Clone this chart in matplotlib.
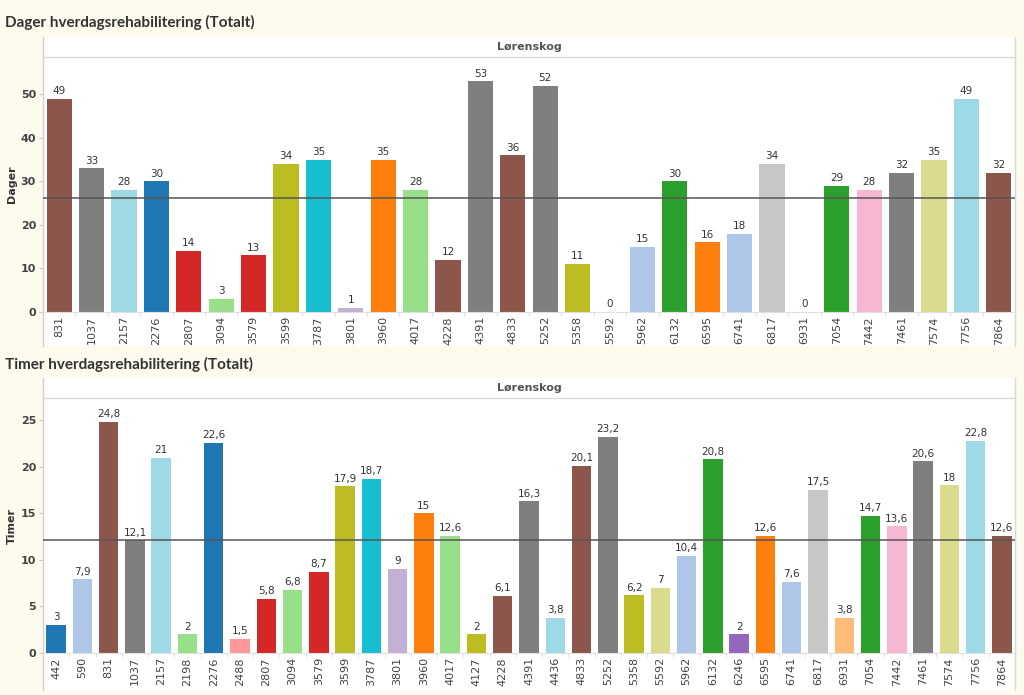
import matplotlib
matplotlib.use("Agg")
import matplotlib.pyplot as plt
from matplotlib.patches import Rectangle
from matplotlib.lines import Line2D

# ---------------- data ----------------
top_title = "Dager hverdagsrehabilitering (Totalt)"
bottom_title = "Timer hverdagsrehabilitering (Totalt)"
header = "Lørenskog"

top_ids = ["831", "1037", "2157", "2276", "2807", "3094", "3579", "3599", "3787", "3801",
           "3960", "4017", "4228", "4391", "4833", "5252", "5358", "5592", "5962", "6132",
           "6595", "6741", "6817", "6931", "7054", "7442", "7461", "7574", "7756", "7864"]
top_values = [49, 33, 28, 30, 14, 3, 13, 34, 35, 1,
              35, 28, 12, 53, 36, 52, 11, 0, 15, 30,
              16, 18, 34, 0, 29, 28, 32, 35, 49, 32]

bottom_ids = ["442", "590", "831", "1037", "2157", "2198", "2276", "2488", "2807", "3094",
              "3579", "3599", "3787", "3801", "3960", "4017", "4127", "4228", "4391", "4436",
              "4833", "5252", "5358", "5592", "5962", "6132", "6246", "6595", "6741", "6817",
              "6931", "7054", "7442", "7461", "7574", "7756", "7864"]
bottom_values = [3, 7.9, 24.8, 12.1, 21, 2, 22.6, 1.5, 5.8, 6.8,
                 8.7, 17.9, 18.7, 9, 15, 12.6, 2, 6.1, 16.3, 3.8,
                 20.1, 23.2, 6.2, 7, 10.4, 20.8, 2, 12.6, 7.6, 17.5,
                 3.8, 14.7, 13.6, 20.6, 18, 22.8, 12.6]

# ---------------- style ----------------
id_colors = {
    "442": "#1f77b4", "590": "#aec7e8", "831": "#8c564b", "1037": "#7f7f7f",
    "2157": "#9edae5", "2198": "#98df8a", "2276": "#1f77b4", "2488": "#ff9896",
    "2807": "#d62728", "3094": "#98df8a", "3579": "#d62728", "3599": "#bcbd22",
    "3787": "#17becf", "3801": "#c5b0d5", "3960": "#ff7f0e", "4017": "#98df8a",
    "4127": "#bcbd22", "4228": "#8c564b", "4391": "#7f7f7f", "4436": "#9edae5",
    "4833": "#8c564b", "5252": "#7f7f7f", "5358": "#bcbd22", "5592": "#dbdb8d",
    "5962": "#aec7e8", "6132": "#2ca02c", "6246": "#9467bd", "6595": "#ff7f0e",
    "6741": "#aec7e8", "6817": "#c7c7c7", "6931": "#ffbb78", "7054": "#2ca02c",
    "7442": "#f7b6d2", "7461": "#7f7f7f", "7574": "#dbdb8d", "7756": "#9edae5",
    "7864": "#8c564b",
}

W, H = 1024, 695
BG = "#fdfaee"
TXT = "#333333"
fig = plt.figure(figsize=(W / 100, H / 100), dpi=100, facecolor=BG)


def fx(px):
    return px / W


def fy(py):
    return 1 - py / H


def panel(title, ylabel, ids, values, title_y, white_top, head_bot, plot_bot, white_bot,
          ymax, yticks, width, fmt):
    fig.text(fx(5), fy(title_y), title, fontsize=11, fontweight="bold", color=TXT,
             va="center", ha="left", family=["Lato", "DejaVu Sans"])
    left, right = 43, 1015
    fig.add_artist(Rectangle((fx(left), fy(white_bot)), fx(right) - fx(left),
                             fy(white_top) - fy(white_bot), transform=fig.transFigure,
                             facecolor="white", edgecolor="none", zorder=-2))
    fig.text(fx((left + right) / 2), fy((white_top + head_bot) / 2), header, fontsize=8,
             fontweight="bold", color="#555555", ha="center", va="center")
    for xs, ys, c in [([left, right], [head_bot, head_bot], "#d9d9d9"),
                      ([right, right], [white_top, white_bot], "#d9d9d9"),
                      ([left, left], [white_top, white_bot], "#d0d0d0")]:
        fig.add_artist(Line2D([fx(v) for v in xs], [fy(v) for v in ys],
                              transform=fig.transFigure, color=c, lw=1, zorder=-1))

    ax = fig.add_axes([fx(left), fy(plot_bot), fx(right) - fx(left), fy(head_bot) - fy(plot_bot)])
    ax.set_zorder(1)
    ax.patch.set_visible(False)
    x = list(range(len(ids)))
    colors = [id_colors[i] for i in ids]
    bars = ax.bar(x, values, width=width, color=colors, zorder=2)
    labels = [fmt(v) for v in values]
    ax.bar_label(bars, labels=labels, padding=2, fontsize=7.5, color=TXT)
    mean = sum(values) / len(values)
    ax.axhline(mean, color="#555555", lw=1.1, zorder=3)
    ax.set_xlim(-0.5, len(ids) - 0.5)
    ax.set_ylim(0, ymax)
    ax.set_xticks(x)
    ax.set_xticklabels(ids, rotation=90, fontsize=8, color="#444444")
    ax.set_xticks([i + 0.5 for i in x[:-1]], minor=True)
    ax.tick_params(axis="x", which="major", length=0, pad=3)
    ax.tick_params(axis="x", which="minor", length=3, color="#dddddd", direction="out")
    ax.set_yticks(yticks)
    ax.set_yticklabels([str(t) for t in yticks], fontsize=8, color="#444444", fontweight="bold")
    ax.tick_params(axis="y", length=3, color="#cccccc", pad=2)
    for s in ["top", "right", "left"]:
        ax.spines[s].set_visible(False)
    ax.spines["bottom"].set_color("#e0e0e0")
    ax.set_ylabel(ylabel, fontsize=8, fontweight="bold", color=TXT)
    ax.yaxis.set_label_coords(-(43 - 17) / (right - left), 0.5)
    return ax


def fmt_int(v):
    return f"{v:g}"


def fmt_dec(v):
    return f"{v:g}".replace(".", ",")


panel(top_title, "Dager", top_ids, top_values, 22, 37, 57, 312, 346,
      58.6, [0, 10, 20, 30, 40, 50], 0.78, fmt_int)
panel(bottom_title, "Timer", bottom_ids, bottom_values, 364, 378, 398, 653, 690,
      27.4, [0, 5, 10, 15, 20, 25], 0.74, fmt_dec)

fig.savefig("out.png", dpi=100, facecolor=BG)
